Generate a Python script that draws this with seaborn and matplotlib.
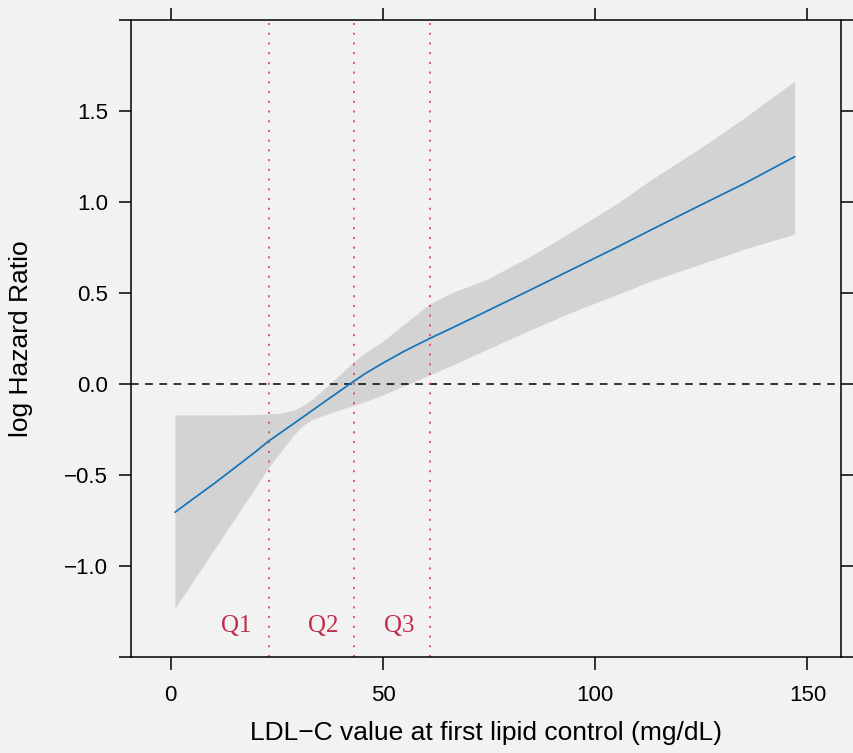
import numpy as np
import pandas as pd
import matplotlib
matplotlib.use("Agg")
import matplotlib.pyplot as plt
import seaborn as sns

# ---- data ----
ldl = [1, 5, 10, 15, 20, 23, 26, 29, 31, 33, 35, 37, 40, 43, 46, 50, 55, 61,
       66, 74, 85, 95, 105, 113, 125, 135, 147]
log_hr = [-0.705, -0.636, -0.551, -0.462, -0.372, -0.315, -0.266, -0.217, -0.184,
          -0.151, -0.118, -0.085, -0.036, 0.013, 0.06, 0.115, 0.18, 0.25,
          0.305, 0.395, 0.52, 0.635, 0.75, 0.845, 0.985, 1.10, 1.249]
ci_upper = [-0.17, -0.17, -0.17, -0.17, -0.168, -0.165, -0.16, -0.145, -0.12,
            -0.09, -0.05, -0.01, 0.055, 0.12, 0.175, 0.235, 0.33, 0.44, 0.50,
            0.57, 0.705, 0.845, 0.99, 1.12, 1.30, 1.46, 1.665]
ci_lower = [-1.233, -1.093, -0.918, -0.743, -0.568, -0.46, -0.37, -0.28, -0.23,
            -0.2, -0.18, -0.165, -0.14, -0.118, -0.095, -0.06, -0.01, 0.05, 0.10,
            0.185, 0.30, 0.40, 0.49, 0.565, 0.66, 0.74, 0.824]
quartile_cuts = [23.1, 43.2, 61.2]
quartile_labels = ["Q1", "Q2", "Q3"]
quartile_label_x = [15.4, 35.9, 53.8]
x_ticks = [0, 50, 100, 150]
y_ticks = [-1.5, -1.0, -0.5, 0.0, 0.5, 1.0, 1.5, 2.0]
y_ticklabels = ["", "\u22121.0", "\u22120.5", "0.0", "0.5", "1.0", "1.5", ""]

df = pd.DataFrame({"ldl": ldl, "log_hr": log_hr, "lo": ci_lower, "hi": ci_upper})

BG = "#f2f2f2"
sns.set_style("white", {"axes.facecolor": BG, "figure.facecolor": BG,
                        "axes.edgecolor": "black", "text.color": "black",
                        "axes.labelcolor": "black", "xtick.color": "black",
                        "ytick.color": "black"})
plt.rcParams["font.family"] = ["Liberation Sans", "DejaVu Sans"]
plt.rcParams["axes.unicode_minus"] = True

fig = plt.figure(figsize=(8.54, 7.53), dpi=100)
fig.patch.set_facecolor(BG)
W, H = 854, 753
ax_l, ax_r, ax_t, ax_b = 131, 841, 20, 657
ax = fig.add_axes([ax_l / W, (H - ax_b) / H, (ax_r - ax_l) / W, (ax_b - ax_t) / H])
ax.set_facecolor(BG)

ax.fill_between(df["ldl"], df["lo"], df["hi"], color="#d3d3d3", linewidth=0, zorder=1)
sns.lineplot(data=df, x="ldl", y="log_hr", ax=ax, color="#1474b8", linewidth=1.25,
             zorder=3)

ax.axhline(0, color="black", linewidth=1.1, linestyle=(0, (5, 4.3)), zorder=2)
for xc in quartile_cuts:
    ax.axvline(xc, color="#e2445e", linewidth=1.25, linestyle=(0, (1.2, 4.4)), zorder=2)
for lab, xq in zip(quartile_labels, quartile_label_x):
    ax.text(xq, -1.365, lab, ha="center", va="baseline", fontsize=18,
            family=["Liberation Serif", "DejaVu Serif"], color="#c22d48", zorder=4)

ax.set_xlim(-9.35, 157.9)
ax.set_ylim(-1.5, 2.0)
ax.set_xticks(x_ticks)
ax.set_xticklabels([str(v) for v in x_ticks])
ax.set_yticks(y_ticks)
ax.set_yticklabels(y_ticklabels)

for s in ax.spines.values():
    s.set_visible(True)
    s.set_color("black")
    s.set_linewidth(1.1)

ax.tick_params(axis="x", which="both", direction="out", length=9, width=1.1,
               color="black", labelcolor="black", labelsize=16, pad=11.5,
               top=True, bottom=True, labeltop=False, labelbottom=True)
ax.tick_params(axis="y", which="both", direction="out", length=9, width=1.1,
               color="black", labelcolor="black", labelsize=16, pad=7.5,
               left=True, right=True, labelleft=True, labelright=False)

ax.set_xlabel("LDL\u2212C value at first lipid control (mg/dL)", fontsize=19,
              color="black")
ax.set_ylabel("log Hazard Ratio", fontsize=19, color="black")
ax.xaxis.set_label_coords(0.5, -(721 - ax_b) / (ax_b - ax_t))
ax.yaxis.set_label_coords((33.5 - ax_l) / (ax_r - ax_l), 0.5)

fig.savefig("out.png", dpi=100, facecolor=BG)
